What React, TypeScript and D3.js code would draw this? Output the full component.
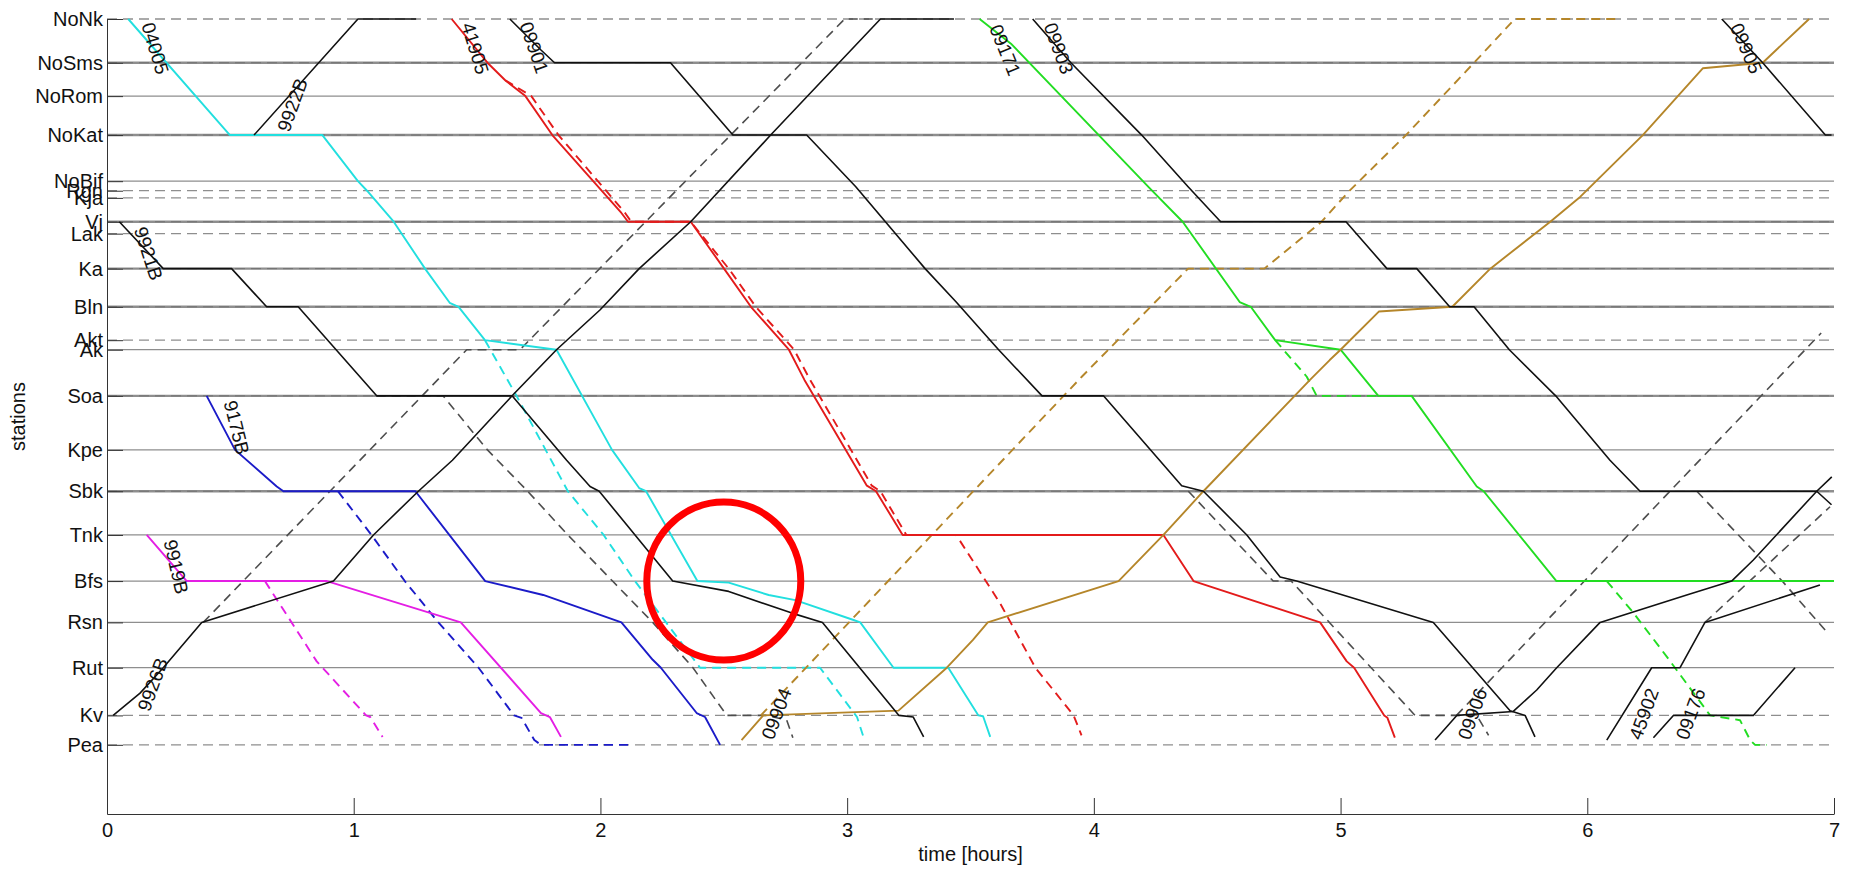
import React, { useEffect, useRef } from "react";
import * as d3 from "d3";

type Stop = [number, string | number];

// stations along the line, distance from NoNk in km
const stations = ["NoNk", "NoSms", "NoRom", "NoKat", "NoBif", "Rgn", "Kja", "Vj", "Lak", "Ka", "Bln", "Akt", "Ak", "Soa", "Kpe", "Sbk", "Tnk", "Bfs", "Rsn", "Rut", "Kv", "Pea"];
const stationKm = [0, 5.5, 9.7, 14.6, 20.4, 21.6, 22.5, 25.5, 27.0, 31.4, 36.2, 40.4, 41.6, 47.4, 54.2, 59.4, 64.9, 70.7, 75.9, 81.6, 87.6, 91.3];
const singleTrack = ["NoNk", "Rgn", "Kja", "Lak", "Akt", "Kv", "Pea"];
const doubleTrack = ["NoSms", "NoKat", "Vj", "Ka", "Bln", "Soa", "Sbk"];
const hourTicks = [0, 1, 2, 3, 4, 5, 6, 7];

// train paths: [time in hours, station name or km]
const tr04005: Stop[] = [[0.086, "NoNk"], [0.498, "NoKat"], [0.873, "NoKat"], [1.017, "NoBif"], [1.054, "Rgn"], [1.162, "Vj"], [1.289, "Ka"], [1.389, 35.7], [1.425, "Bln"], [1.532, "Akt"], [1.822, "Ak"], [2.047, "Kpe"], [2.157, 59.0], [2.185, "Sbk"], [2.393, "Bfs"], [2.52, 70.9], [2.682, 72.45], [2.79, 73.1], [3.026, 75.6], [3.053, "Rsn"], [3.188, "Rut"], [3.41, "Rut"], [3.532, "Kv"], [3.551, 87.7], [3.58, 90.3]];
const tr04005plan: Stop[] = [[1.532, "Akt"], [1.66, "Soa"], [1.868, "Sbk"], [2.013, "Tnk"], [2.14, "Bfs"], [2.266, "Rsn"], [2.404, "Rut"], [2.89, "Rut"], [3.04, 87.8], [3.066, 90.3]];
const tr9922B: Stop[] = [[0.596, "NoKat"], [1.017, "NoNk"], [1.253, "NoNk"]];
const tr9921B: Stop[] = [[0.05, "Vj"], [0.228, "Ka"], [0.505, "Ka"], [0.647, "Bln"], [0.775, "Bln"], [1.093, "Soa"], [1.642, "Soa"], [1.863, 55.5], [1.958, 58.8], [1.995, "Sbk"], [2.293, "Bfs"], [2.52, 72.0], [2.773, 74.7], [2.9, "Rsn"], [3.21, "Kv"], [3.268, 87.8], [3.31, 90.3]];
const tr9921Bplan: Stop[] = [[1.093, "Soa"], [1.362, "Soa"], [1.542, "Kpe"], [1.705, "Sbk"], [1.868, "Tnk"], [2.049, "Bfs"], [2.212, "Rsn"], [2.375, "Rut"], [2.512, "Kv"], [2.674, "Kv"], [2.755, 88.2], [2.78, 90.4]];
const tr9926B: Stop[] = [[0.025, "Kv"], [0.134, 84.8], [0.228, "Rut"], [0.384, "Rsn"], [0.918, "Bfs"], [1.08, "Tnk"], [1.262, "Sbk"], [1.4, 55.5], [1.642, "Soa"], [1.822, "Ak"], [1.998, 36.6], [2.157, "Ka"], [2.366, "Vj"], [2.69, "NoKat"], [3.135, "NoNk"], [3.433, "NoNk"]];
const tr9926Bplan: Stop[] = [[0.39, "Rsn"], [1.458, "Ak"], [1.674, "Ak"], [2.99, "NoNk"], [3.116, "NoNk"]];
const tr9175B: Stop[] = [[0.404, "Soa"], [0.519, "Kpe"], [0.688, 58.8], [0.715, "Sbk"], [1.25, "Sbk"], [1.533, "Bfs"], [1.768, 72.45], [2.085, "Rsn"], [2.212, 80.6], [2.245, "Rut"], [2.39, 87.3], [2.424, 87.8], [2.485, "Pea"]];
const tr9175Bplan: Stop[] = [[0.936, "Sbk"], [1.072, "Tnk"], [1.207, "Bfs"], [1.343, "Rsn"], [1.506, "Rut"], [1.65, "Kv"], [1.68, 87.9], [1.732, 90.7], [1.759, "Pea"], [2.127, "Pea"]];
const tr9919B: Stop[] = [[0.161, "Tnk"], [0.323, "Bfs"], [0.891, "Bfs"], [1.434, "Rsn"], [1.759, 87.3], [1.795, 87.8], [1.84, 90.3]];
const tr9919Bplan: Stop[] = [[0.64, "Bfs"], [0.85, 80.8], [1.05, "Kv"], [1.067, 87.8], [1.117, 90.3]];
const tr41905: Stop[] = [[1.397, "NoNk"], [1.542, "NoSms"], [1.614, 7.7], [1.696, "NoRom"], [1.805, "NoKat"], [2.085, 24.4], [2.112, "Vj"], [2.366, "Vj"], [2.501, "Ka"], [2.61, "Bln"], [2.764, "Ak"], [2.827, 45.4], [3.08, 58.7], [3.117, "Sbk"], [3.225, "Tnk"], [4.282, "Tnk"], [4.404, "Bfs"], [4.917, "Rsn"], [5.025, 80.8], [5.055, "Rut"], [5.177, "Kv"], [5.19, 87.9], [5.22, 90.4]];
const tr41905plan: Stop[] = [[1.614, 7.7], [1.72, "NoRom"], [1.83, "NoKat"], [2.1, 24.4], [2.125, "Vj"], [2.366, "Vj"], [2.52, "Ka"], [2.63, "Bln"], [2.785, "Ak"], [2.85, 45.4], [3.1, 58.7], [3.135, "Sbk"], [3.24, "Tnk"], [3.442, "Tnk"], [3.62, 73.5], [3.763, "Rut"], [3.918, "Kv"], [3.95, 90.1]];
const tr09901: Stop[] = [[1.633, "NoNk"], [1.759, 3.9], [1.814, "NoSms"], [2.284, "NoSms"], [2.537, "NoKat"], [2.836, "NoKat"], [3.035, 21.1], [3.316, "Ka"], [3.442, 35.6], [3.614, "Ak"], [3.79, "Soa"], [4.039, "Soa"], [4.356, 58.7], [4.444, "Sbk"], [4.62, "Tnk"], [4.755, 70.2], [4.822, "Bfs"], [5.376, "Rsn"], [5.687, 87.0], [5.748, "Kv"], [5.788, 90.3]];
const tr09901plan: Stop[] = [[4.383, "Sbk"], [4.727, "Bfs"], [4.8, "Bfs"], [5.302, "Kv"], [5.552, "Kv"], [5.6, 90.1]];
const tr09903: Stop[] = [[3.752, "NoNk"], [3.907, "NoSms"], [4.194, "NoKat"], [4.382, 21.1], [4.514, "Vj"], [5.022, "Vj"], [5.188, "Ka"], [5.309, "Ka"], [5.442, "Bln"], [5.541, "Bln"], [5.684, "Ak"], [5.872, "Soa"], [6.092, 55.5], [6.214, "Sbk"], [6.93, "Sbk"], [6.99, 61.1]];
const tr09903plan: Stop[] = [[6.444, "Sbk"], [6.79, "Bfs"], [6.971, 77.1]];
const tr09905: Stop[] = [[6.545, "NoNk"], [6.711, "NoSms"], [6.965, "NoKat"], [6.99, "NoKat"]];
const tr09171: Stop[] = [[3.537, "NoNk"], [3.664, 3.1], [4.227, 21.3], [4.36, "Vj"], [4.591, 35.6], [4.636, "Bln"], [4.735, "Akt"], [5.0, "Ak"], [5.153, "Soa"], [5.288, "Soa"], [5.552, 58.8], [5.58, "Sbk"], [5.875, "Bfs"], [7.0, "Bfs"]];
const tr09171planA: Stop[] = [[4.735, "Akt"], [4.863, 45.0], [4.903, "Soa"], [5.155, "Soa"]];
const tr09171planB: Stop[] = [[6.079, "Bfs"], [6.187, 74.7], [6.322, 80.2], [6.498, "Kv"], [6.619, 88.2], [6.66, 90.7], [6.68, "Pea"], [6.727, "Pea"]];
const tr09904: Stop[] = [[2.572, 90.7], [2.66, "Kv"], [3.208, 87.0], [3.404, "Rut"], [3.51, 78.1], [3.57, "Rsn"], [4.1, "Bfs"], [4.282, "Tnk"], [4.444, "Sbk"], [4.876, 45.4], [4.956, 42.9], [5.0, "Ak"], [5.155, 36.8], [5.453, "Bln"], [5.607, "Ka"], [5.85, "Vj"], [5.972, 22.35], [6.225, "NoKat"], [6.468, 6.2], [6.711, "NoSms"], [6.899, "NoNk"]];
const tr09904plan: Stop[] = [[2.65, "Kv"], [3.951, 45.0], [4.382, "Ka"], [4.691, "Ka"], [4.923, "Vj"], [5.033, 21.7], [5.265, "NoKat"], [5.541, "NoSms"], [5.706, "NoNk"], [6.115, "NoNk"]];
const tr09906: Stop[] = [[5.383, 90.7], [5.471, "Kv"], [5.7, 87.1], [5.795, 84.4], [5.876, "Rut"], [6.052, "Rsn"], [6.403, 72.45], [6.585, "Bfs"], [6.673, 68.05], [6.93, "Sbk"], [6.991, 57.6]];
const tr09906plan: Stop[] = [[5.47, "Kv"], [6.335, "Sbk"], [6.948, 39.5]];
const tr45902: Stop[] = [[6.079, 90.7], [6.261, "Rut"], [6.376, "Rut"], [6.477, "Rsn"], [6.943, 71.2]];
const tr45902plan: Stop[] = [[6.477, "Rsn"], [6.984, 61.35]];
const tr09176: Stop[] = [[6.268, 90.4], [6.349, "Kv"], [6.673, "Kv"], [6.842, "Rut"]];

// train number labels: [text, time, km, angle]
const trainLabels: [string, number, number, number][] = [
  ["04005", 0.195, 3.7, 73], ["9922B", 0.752, 10.8, -70], ["9921B", 0.168, 29.5, 72],
  ["9175B", 0.525, 51.4, 76], ["9919B", 0.28, 68.9, 77], ["9926B", 0.186, 83.7, -70],
  ["41905", 1.492, 3.7, 73], ["09901", 1.731, 3.6, 71], ["09171", 3.64, 3.9, 68],
  ["09903", 3.857, 3.7, 70], ["09905", 6.644, 3.7, 67], ["09904", 2.714, 87.4, -69],
  ["09906", 5.535, 87.4, -70], ["45902", 6.23, 87.4, -70], ["09176", 6.419, 87.4, -70],
];

const highlight = { t: 2.5, station: "Bfs" };

const palette: Record<string, string> = {
  black: "#111111", cyan: "#22dfdf", red: "#e31b1b", blue: "#1b1bc8",
  magenta: "#e41ee4", green: "#22dd22", brown: "#b5862a", gray: "#4d4d4d",
};

const series: { path: Stop[]; color: string; dashed: boolean }[] = [
  { path: tr9926Bplan, color: "gray", dashed: true },
  { path: tr9921Bplan, color: "gray", dashed: true },
  { path: tr09901plan, color: "gray", dashed: true },
  { path: tr09903plan, color: "gray", dashed: true },
  { path: tr09906plan, color: "gray", dashed: true },
  { path: tr45902plan, color: "gray", dashed: true },
  { path: tr04005plan, color: "cyan", dashed: true },
  { path: tr9175Bplan, color: "blue", dashed: true },
  { path: tr9919Bplan, color: "magenta", dashed: true },
  { path: tr41905plan, color: "red", dashed: true },
  { path: tr09171planA, color: "green", dashed: true },
  { path: tr09171planB, color: "green", dashed: true },
  { path: tr09904plan, color: "brown", dashed: true },
  { path: tr04005, color: "cyan", dashed: false },
  { path: tr9175B, color: "blue", dashed: false },
  { path: tr9919B, color: "magenta", dashed: false },
  { path: tr41905, color: "red", dashed: false },
  { path: tr09171, color: "green", dashed: false },
  { path: tr09904, color: "brown", dashed: false },
  { path: tr9922B, color: "black", dashed: false },
  { path: tr9921B, color: "black", dashed: false },
  { path: tr9926B, color: "black", dashed: false },
  { path: tr09901, color: "black", dashed: false },
  { path: tr09903, color: "black", dashed: false },
  { path: tr09905, color: "black", dashed: false },
  { path: tr09906, color: "black", dashed: false },
  { path: tr45902, color: "black", dashed: false },
  { path: tr09176, color: "black", dashed: false },
];

const width = 1854;
const height = 875;
const font = "'Liberation Sans', Arial, sans-serif";

const kmOf = (s: string | number) => (typeof s === "number" ? s : stationKm[stations.indexOf(s)]);

const App = () => {
  const ref = useRef<SVGSVGElement>(null);

  useEffect(() => {
    const svg = d3.select(ref.current);
    svg.selectAll("*").remove();

    const x = d3.scaleLinear().domain([0, 7]).range([107, 1834]);
    const y = d3.scaleLinear().domain([0, 100]).range([19, 814]);

    // station lines
    const grid = svg.append("g");
    stations.forEach((s, i) => {
      const yy = y(stationKm[i]);
      const base = grid.append("line")
        .attr("x1", x(0)).attr("x2", x(7))
        .attr("y1", yy).attr("y2", yy)
        .attr("stroke", "#8e8e8e");
      if (singleTrack.includes(s)) {
        base.attr("stroke-width", 1.3).attr("stroke-dasharray", "10,6");
      } else if (doubleTrack.includes(s)) {
        base.attr("stroke-width", 2.4);
        grid.append("line")
          .attr("x1", x(0)).attr("x2", x(7))
          .attr("y1", yy).attr("y2", yy)
          .attr("stroke", "#727272").attr("stroke-width", 1)
          .attr("stroke-dasharray", "10,6");
      } else {
        base.attr("stroke-width", 1.3);
      }
    });

    // axes
    const xAxis = d3.axisBottom(x).tickValues(hourTicks).tickFormat(d3.format("d"))
      .tickSizeInner(-16).tickSizeOuter(0).tickPadding(9);
    const yAxis = d3.axisLeft(y).tickValues(stationKm)
      .tickFormat((_, i) => stations[i])
      .tickSizeInner(-16).tickSizeOuter(0).tickPadding(4);

    const gx = svg.append("g").attr("transform", `translate(0, ${y(100)})`).call(xAxis);
    const gy = svg.append("g").attr("transform", `translate(${x(0)}, 0)`).call(yAxis);
    [gx, gy].forEach(g => {
      g.selectAll("path").attr("stroke", "#333");
      g.selectAll("line").attr("stroke", "#333");
      g.selectAll("text").attr("font-family", font).attr("font-size", 20).attr("fill", "#111");
    });

    svg.append("text")
      .attr("x", (x(0) + x(7)) / 2).attr("y", 861)
      .attr("text-anchor", "middle")
      .attr("font-family", font).attr("font-size", 20).attr("fill", "#111")
      .text("time [hours]");

    svg.append("text")
      .attr("transform", `translate(18, ${(y(0) + y(100)) / 2}) rotate(-90)`)
      .attr("text-anchor", "middle")
      .attr("dominant-baseline", "central")
      .attr("font-family", font).attr("font-size", 20).attr("fill", "#111")
      .text("stations");

    // trains
    const line = d3.line<Stop>()
      .x(d => x(d[0]))
      .y(d => y(kmOf(d[1])));

    svg.append("g").selectAll("path")
      .data(series)
      .enter().append("path")
      .attr("d", d => line(d.path))
      .attr("fill", "none")
      .attr("stroke", d => palette[d.color])
      .attr("stroke-width", d => (d.color === "black" || d.color === "gray" ? 1.6 : 1.9))
      .attr("stroke-dasharray", d => (d.dashed ? "9,6" : null))
      .attr("stroke-linejoin", "round");

    svg.append("g").selectAll("text")
      .data(trainLabels)
      .enter().append("text")
      .attr("transform", d => `translate(${x(d[1])}, ${y(d[2])}) rotate(${d[3]})`)
      .attr("text-anchor", "middle")
      .attr("dominant-baseline", "central")
      .attr("font-family", font).attr("font-size", 19).attr("fill", "#111")
      .text(d => d[0]);

    // highlight ring
    svg.append("ellipse")
      .attr("cx", x(highlight.t)).attr("cy", y(kmOf(highlight.station)))
      .attr("rx", 77).attr("ry", 79)
      .attr("fill", "none").attr("stroke", "#f00").attr("stroke-width", 7);
  }, []);

  return (
    <svg ref={ref} width={width} height={height}
      style={{ position: "absolute", left: 0, top: 0, background: "#fff" }} />
  );
};

export default App;
